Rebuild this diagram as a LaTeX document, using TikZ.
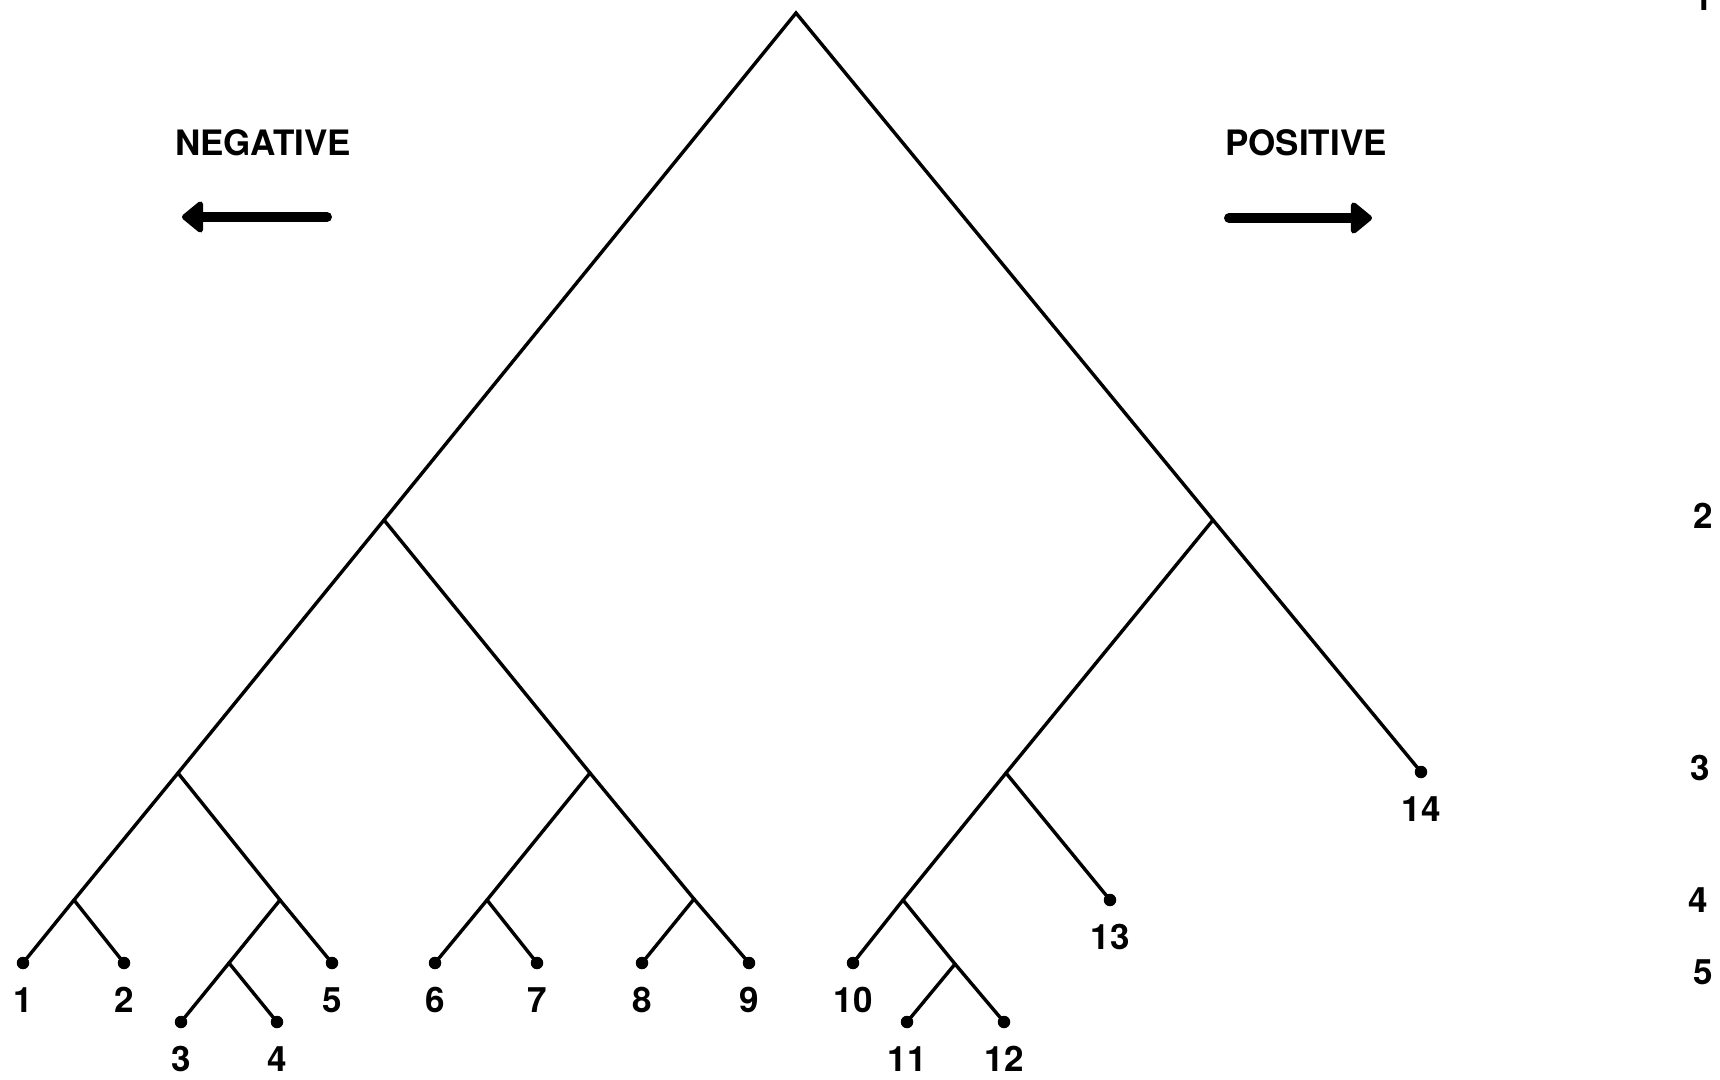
\documentclass[tikz,border=0pt]{standalone}
\usepackage{fontspec}
\setmainfont{TeX Gyre Heros}
\usetikzlibrary{arrows.meta}
\begin{document}
\begin{tikzpicture}[x=1pt,y=-1pt,
  edge/.style={line width=3.4pt, line cap=round, line join=miter},
  leaf/.style={circle, fill=black, inner sep=0pt, minimum size=12.5pt},
  lab/.style={font=\fontsize{35}{40}\selectfont\bfseries, inner sep=0pt},
  bigarrow/.style={line width=10pt, line cap=round, -{Triangle[length=23pt,width=36pt,round]}}
]
\useasboundingbox[fill=white] (0,0) rectangle (1720,1079);

% internal nodes
\coordinate (R) at (796,13);
\coordinate (A) at (384,520);
\coordinate (D) at (1213,520);
\coordinate (B) at (178,773);
\coordinate (E) at (590,773);
\coordinate (C) at (74,900);
\coordinate (F) at (280,900);
\coordinate (G) at (229,963);
\coordinate (H) at (487,900);
\coordinate (I) at (694,899);
\coordinate (J) at (1006,773);
\coordinate (K) at (903,900);
\coordinate (L) at (955,964);

% leaves
\node[leaf] (l1) at (23,963) {};
\node[leaf] (l2) at (124,963) {};
\node[leaf] (l3) at (181,1022) {};
\node[leaf] (l4) at (277,1022) {};
\node[leaf] (l5) at (332,963) {};
\node[leaf] (l6) at (435,963) {};
\node[leaf] (l7) at (537,963) {};
\node[leaf] (l8) at (642,963) {};
\node[leaf] (l9) at (749,963) {};
\node[leaf] (l10) at (853,963) {};
\node[leaf] (l11) at (907,1022) {};
\node[leaf] (l12) at (1004,1022) {};
\node[leaf] (l13) at (1110,900) {};
\node[leaf] (l14) at (1421,772) {};

% edges
\draw[edge] (l1.center) -- (C) -- (B) -- (A) -- (R) -- (D) -- (l14.center);
\draw[edge] (C) -- (l2.center);
\draw[edge] (A) -- (E);
\draw[edge] (B) -- (F);
\draw[edge] (F) -- (G);
\draw[edge] (F) -- (l5.center);
\draw[edge] (G) -- (l3.center);
\draw[edge] (G) -- (l4.center);
\draw[edge] (E) -- (H);
\draw[edge] (E) -- (I);
\draw[edge] (H) -- (l6.center);
\draw[edge] (H) -- (l7.center);
\draw[edge] (I) -- (l8.center);
\draw[edge] (I) -- (l9.center);
\draw[edge] (D) -- (J);
\draw[edge] (J) -- (K);
\draw[edge] (J) -- (l13.center);
\draw[edge] (K) -- (l10.center);
\draw[edge] (K) -- (L);
\draw[edge] (L) -- (l11.center);
\draw[edge] (L) -- (l12.center);

% leaf labels
\foreach \n in {1,...,14}{
  \node[lab] (t\n) at ([yshift=-37pt]l\n.center) {\n};
}

% level labels
\node[lab] (v1) at (1703,-2) {1};
\node[lab] (v2) at (1703,516) {2};
\node[lab] (v3) at (1700,768) {3};
\node[lab] (v4) at (1698,900) {4};
\node[lab] (v5) at (1703,972) {5};

% direction labels and arrows
\node[lab] (neg) at (263,143) {NEGATIVE};
\node[lab] (pos) at (1306,143) {POSITIVE};
\coordinate (negS) at (327,217);
\coordinate (negT) at (182,217);
\coordinate (posS) at (1229,218);
\coordinate (posT) at (1372,218);
\draw[bigarrow] (negS) -- (negT);
\draw[bigarrow] (posS) -- (posT);
\end{tikzpicture}
\end{document}
